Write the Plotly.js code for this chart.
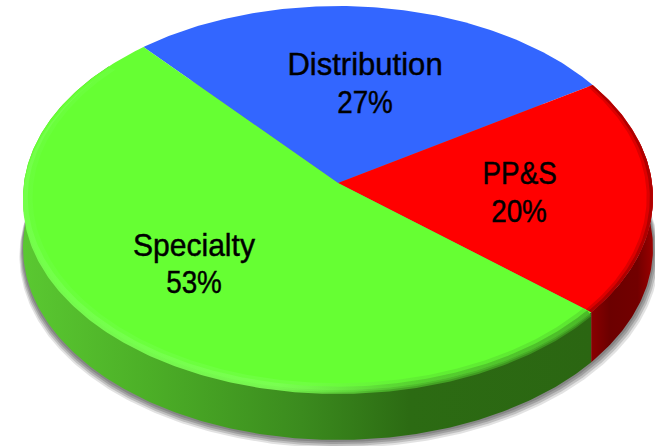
<!DOCTYPE html>
<html>
<head>
<meta charset="utf-8">
<script src="https://cdn.plot.ly/plotly-3.0.1.min.js"></script>
<style>
html,body{margin:0;padding:0;background:#fff}
#c{width:655px;height:446px}
text.annotation-text{transform-box:fill-box;transform-origin:center;stroke:#000;stroke-width:.45px}
.annotation[data-index="0"] text.annotation-text{transform:scaleX(.97)}
.annotation[data-index="2"] text.annotation-text{transform:scaleX(.87)}
.annotation[data-index="4"] text.annotation-text{transform:scaleX(.94)}
.annotation[data-index="1"] text.annotation-text,
.annotation[data-index="3"] text.annotation-text,
.annotation[data-index="5"] text.annotation-text{transform:scaleX(.87)}
</style>
</head>
<body>
<div id="c"></div>
<script>
// Data: slice sizes; the labels show them rounded
const categories = ['Distribution', 'PP&S', 'Specialty'];
const shares = [27.4, 20.1, 52.5];
const topColors = ['#3366ff', '#ff0000', '#66ff33'];

// Pie geometry (disc tilted in perspective)
const CX = 338, CY = 198, RX = 315, RY = 192;
const APEX_SHIFT = 0.078, DEPTH = 50, START_DEG = 131;
const nameX = [365, 519, 194], nameY = [64, 173, 245], pctY = [102, 211, 282];

// Project a point on the flat disc (unit circle) onto the tilted ellipse
function proj(x, y) {
  const a = APEX_SHIFT, d = 1 + a * y;
  return [CX + RX * x * Math.sqrt(1 - a * a) / d, CY - RY * (y + a) / d];
}
function arc(d0, d1, r) {
  const n = Math.max(2, Math.ceil(Math.abs(d1 - d0) * 1.5)), out = [], R = r === undefined ? 1 : r;
  for (let i = 0; i <= n; i++) {
    const t = (d0 + (d1 - d0) * i / n) * Math.PI / 180;
    out.push(proj(R * Math.cos(t), R * Math.sin(t)));
  }
  return out;
}
const total = shares.reduce((s, v) => s + v, 0);
let cursor = START_DEG;
const spans = shares.map(v => { const s = [cursor, cursor - v / total * 360]; cursor = s[1]; return s; });
const close = pts => pts.concat([pts[0]]);
const wedge = i => close([proj(0, 0)].concat(arc(spans[i][0], spans[i][1])));
// Wall: the rim arc extruded downward
const wall = (d0, d1) => {
  const top = arc(d0, d1);
  return close(top.concat(top.slice().reverse().map(p => [p[0], p[1] + DEPTH])));
};
// Bevel: band from just inside the rim to slightly below it
const band = (d0, d1, rIn, dy) => {
  const inner = arc(d0, d1, rIn);
  const outer = arc(d0, d1).reverse().map(p => [p[0], p[1] + dy]);
  return close(inner.concat(outer));
};
// Shadow: ellipse at wall depth, slightly enlarged
const shadow = grow => close(arc(0, 360).map(p => [CX + (p[0] - CX) * (1 + grow * 0.6 / RX) + grow * 0.15, p[1] + DEPTH + grow]));

const trace = (pts, o) => Object.assign({
  type: 'scatter', mode: 'lines', x: pts.map(p => p[0]), y: pts.map(p => p[1]),
  hoverinfo: 'skip', showlegend: false, fill: 'toself', line: { width: 0 }
}, o);
const solid = (pts, color) => trace(pts, { fillcolor: color });
const grad = (pts, stops) => trace(pts, { fillgradient: { type: 'horizontal', colorscale: stops } });

const corner = spans[1][1]; // red / green corner on the rim
const gStart = corner - 180;
const traces = [];

// Soft shadow
[[8, 'rgba(110,110,110,0.2)'], [6, 'rgba(110,110,110,0.3)'], [4, 'rgba(110,110,110,0.4)'], [2, 'rgba(110,110,110,0.5)']]
  .forEach(s => traces.push(solid(shadow(s[0]), s[1])));

// Side walls
traces.push(grad(wall(gStart, corner), [[0, '#5ac831'], [0.22, '#4caf27'], [0.49, '#3b8b1e'], [0.68, '#2c6b13'], [1, '#2b6612']]));
traces.push(grad(wall(corner, corner + 52), [[0, '#8a0000'], [0.3, '#6c0000'], [0.75, '#720000'], [1, '#9a0000']]));

// Top faces
spans.forEach((s, i) => traces.push(solid(wedge(i), topColors[i])));

// Rim bevels
const gBevel = [[0, 'rgba(120,255,80,0.9)'], [0.45, 'rgba(125,255,85,0.9)'], [0.65, 'rgba(80,190,45,0.75)'], [1, 'rgba(60,150,30,0.75)']];
traces.push(grad(band(gStart, corner, 0.985, 4), gBevel));
traces.push(grad(band(gStart, corner, 0.97, 2), [[0, 'rgba(110,255,70,0.4)'], [0.5, 'rgba(120,255,80,0.5)'], [0.7, 'rgba(90,220,50,0.45)'], [1, 'rgba(80,200,45,0.45)']]));
traces.push(solid(band(corner, spans[1][0], 0.99, 0), 'rgba(130,0,0,0.65)'));
traces.push(solid(band(corner, spans[1][0], 0.98, 0), 'rgba(180,0,0,0.45)'));

const font = { family: '"Liberation Sans", Arial, sans-serif', size: 32, color: '#000' };
const annotations = [];
categories.forEach((c, i) => {
  annotations.push({ x: nameX[i], y: nameY[i], xref: 'x', yref: 'y', showarrow: false, text: c, font });
  annotations.push({ x: nameX[i], y: pctY[i], xref: 'x', yref: 'y', showarrow: false, text: Math.round(shares[i]) + '%', font });
});

Plotly.newPlot('c', traces, {
  width: 655, height: 446,
  margin: { l: 0, r: 0, t: 0, b: 0 },
  paper_bgcolor: '#fff', plot_bgcolor: '#fff',
  xaxis: { range: [0, 655], visible: false, fixedrange: true },
  yaxis: { range: [446, 0], visible: false, fixedrange: true },
  showlegend: false,
  annotations
}, { displayModeBar: false, staticPlot: true });
</script>
</body>
</html>
